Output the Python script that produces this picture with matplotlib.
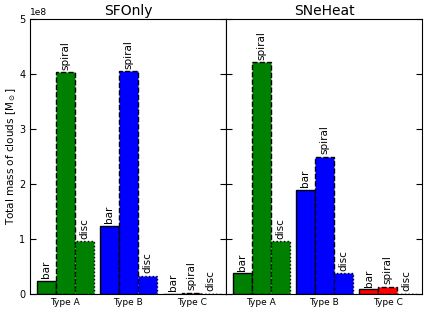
import numpy as np
import matplotlib.pyplot as plt

# --- Data (units of 1e8 Msun) ---
types = ['Type A', 'Type B', 'Type C']
panels = ['SFOnly', 'SNeHeat']
components = ['bar', 'spiral', 'disc']
sfonly_bar = [0.24, 1.24, 0.005]
sfonly_spiral = [4.03, 4.05, 0.03]
sfonly_disc = [0.96, 0.33, 0.005]
sneheat_bar = [0.38, 1.90, 0.09]
sneheat_spiral = [4.21, 2.49, 0.13]
sneheat_disc = [0.96, 0.38, 0.005]

colors = ['g', 'b', 'r']
styles = ['solid', 'dashed', 'dotted']

data = {
    'SFOnly': [sfonly_bar, sfonly_spiral, sfonly_disc],
    'SNeHeat': [sneheat_bar, sneheat_spiral, sneheat_disc],
}

fig = plt.figure(figsize=(4.36, 3.27), dpi=100)
left, bottom, top, right = 0.0695, 0.100, 0.942, 0.9686
w = (right - left) / 2
axes = [fig.add_axes([left, bottom, w, top - bottom])]
axes.append(fig.add_axes([left + w, bottom, w, top - bottom], sharey=axes[0]))

ind = np.arange(len(types))
width = 0.3

for ax, name in zip(axes, panels):
    for j, (comp, ls) in enumerate(zip(components, styles)):
        vals = np.array(data[name][j]) * 1e8
        xs = ind + (j - 1) * width
        ax.bar(xs, vals, width, color=colors, edgecolor='k',
               linestyle=ls, linewidth=1.0)
        for x, v in zip(xs, vals):
            ax.text(x, v + 0.05e8, comp, rotation=90, ha='center',
                    va='bottom', fontsize=7.5)
    ax.set_title(name, fontsize=10, pad=3)
    ax.set_xticks(ind)
    ax.set_xticklabels(types, fontsize=6.5)
    ax.set_xlim(-0.55, 2.55)
    ax.tick_params(axis='x', length=0, pad=3)
    ax.tick_params(axis='y', direction='in', left=True, right=True,
                   length=4, labelsize=7)

axes[0].set_ylim(0, 5e8)
axes[0].set_yticks(np.arange(0, 6) * 1e8)
axes[0].set_ylabel(r'Total mass of clouds [M$_\odot$]', fontsize=7.5,
                   labelpad=1)
axes[0].yaxis.get_offset_text().set_fontsize(6.5)
axes[1].tick_params(axis='y', labelleft=False)

plt.savefig('out.png', dpi=100)
